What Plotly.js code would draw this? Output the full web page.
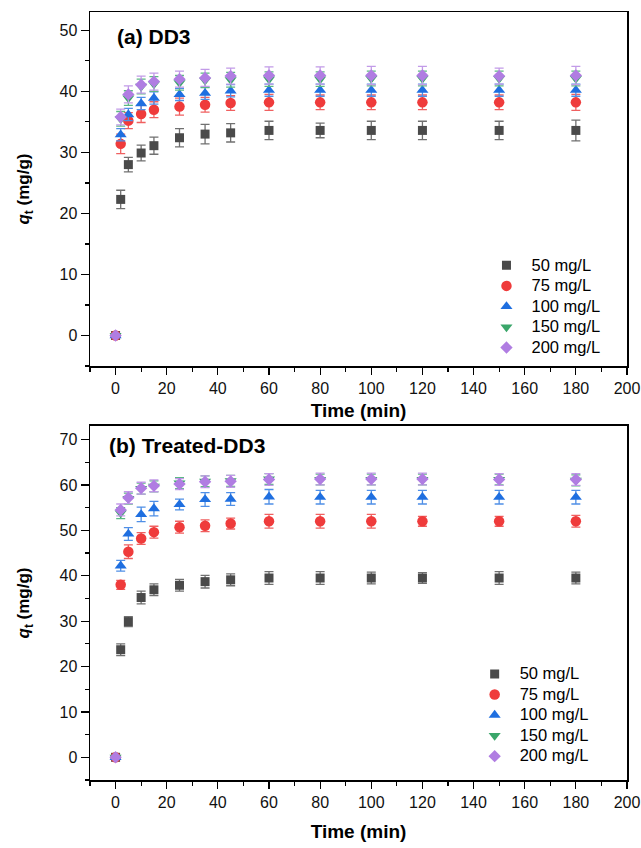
<!DOCTYPE html>
<html>
<head>
<meta charset="utf-8">
<script src="https://cdn.plot.ly/plotly-3.0.1.min.js"></script>
<style>html,body{margin:0;padding:0;background:#fff;}#chart{width:641px;height:848px;}</style>
</head>
<body>
<div id="chart"></div>
<script>
// ---- data ----
const time = [0, 2, 5, 10, 15, 25, 35, 45, 60, 80, 100, 120, 150, 180];
const seriesNames = ["50 mg/L", "75 mg/L", "100 mg/L", "150 mg/L", "200 mg/L"];

// (a) DD3
const a50  = [0, 22.3, 28.0, 29.9, 31.1, 32.4, 33.0, 33.2, 33.6, 33.6, 33.6, 33.6, 33.6, 33.6];
const a50e = [0, 1.5, 1.2, 1.3, 1.4, 1.5, 1.6, 1.5, 1.5, 1.2, 1.5, 1.5, 1.5, 1.7];
const a75  = [0, 31.4, 35.2, 36.3, 37.0, 37.5, 37.8, 38.1, 38.2, 38.2, 38.2, 38.2, 38.2, 38.2];
const a75e = [0, 1.6, 1.3, 1.4, 1.3, 1.4, 1.2, 1.2, 1.3, 1.2, 1.2, 1.2, 1.2, 1.3];
const a100  = [0, 32.9, 36.2, 38.0, 38.9, 39.5, 39.7, 40.1, 40.2, 40.2, 40.2, 40.2, 40.2, 40.2];
const a100e = [0, 1.0, 1.0, 1.0, 1.0, 1.0, 1.0, 1.0, 1.0, 1.0, 1.0, 1.0, 1.0, 1.0];
const a150  = [0, 35.5, 38.9, 40.8, 41.2, 41.4, 41.8, 41.9, 42.0, 42.0, 42.1, 42.1, 42.1, 42.1];
const a150e = [0, 1.2, 1.2, 1.2, 1.2, 1.2, 1.2, 1.2, 1.2, 1.2, 1.2, 1.2, 1.2, 1.2];
const a200  = [0, 35.8, 39.5, 41.1, 41.6, 42.0, 42.2, 42.5, 42.6, 42.6, 42.6, 42.6, 42.5, 42.6];
const a200e = [0, 1.3, 1.4, 1.4, 1.4, 1.3, 1.4, 1.3, 1.4, 1.4, 1.5, 1.5, 1.3, 1.5];

// (b) Treated-DD3
const b50  = [0, 23.7, 29.9, 35.2, 36.9, 37.9, 38.7, 39.1, 39.5, 39.5, 39.5, 39.5, 39.5, 39.5];
const b50e = [0, 1.3, 1.1, 1.4, 1.3, 1.3, 1.4, 1.3, 1.4, 1.4, 1.3, 1.2, 1.4, 1.3];
const b75  = [0, 38.0, 45.3, 48.2, 49.6, 50.7, 51.0, 51.5, 52.0, 52.0, 52.0, 52.0, 52.0, 52.0];
const b75e = [0, 1.0, 1.5, 1.3, 1.3, 1.3, 1.3, 1.2, 1.5, 1.5, 1.5, 1.1, 1.1, 1.3];
const b100  = [0, 42.2, 49.2, 53.5, 54.8, 55.7, 56.8, 56.9, 57.4, 57.3, 57.3, 57.3, 57.3, 57.3];
const b100e = [0, 1.2, 1.4, 1.6, 1.6, 1.2, 1.5, 1.4, 1.6, 1.5, 1.5, 1.5, 1.5, 1.5];
const b150  = [0, 53.8, 57.0, 59.2, 59.7, 60.4, 60.8, 60.9, 61.3, 61.2, 61.2, 61.2, 61.2, 61.0];
const b150e = [0, 1.2, 1.2, 1.2, 1.2, 1.2, 1.2, 1.2, 1.2, 1.2, 1.2, 1.2, 1.2, 1.2];
const b200  = [0, 54.5, 57.2, 59.3, 59.8, 60.2, 60.7, 60.8, 61.2, 61.3, 61.3, 61.3, 61.2, 61.2];
const b200e = [0, 1.3, 1.3, 1.3, 1.3, 1.2, 1.3, 1.3, 1.3, 1.3, 1.3, 1.3, 1.3, 1.3];

// ---- styles ----
const colors = ["#4a4a4a", "#ef3b3b", "#1f6fe0", "#3aa66a", "#b07de2"];
const errColors = ["#707070", "#f06060", "#4f8fe6", "#5cb884", "#c29be8"];
const symbols = ["square", "circle", "triangle-up", "triangle-down", "diamond"];
const sizes = [9, 10.5, 10.5, 10.5, 9.5];

const topY = [a50, a75, a100, a150, a200];
const topE = [a50e, a75e, a100e, a150e, a200e];
const botY = [b50, b75, b100, b150, b200];
const botE = [b50e, b75e, b100e, b150e, b200e];

const traces = [];
function addSet(ys, es, xa, ya, legendName) {
  ys.forEach((y, i) => {
    traces.push({
      type: "scatter", mode: "markers",
      x: time, y: y, xaxis: xa, yaxis: ya,
      name: '<span style="font-size:16.5px">' + seriesNames[i] + '</span>',
      legend: legendName,
      marker: {symbol: symbols[i], size: sizes[i], color: colors[i], line: {width: 0}},
      error_y: {type: "data", array: es[i], visible: true, color: errColors[i], thickness: 1.3, width: 4.5}
    });
  });
}
addSet(topY, topE, "x", "y", "legend");
addSet(botY, botE, "x2", "y2", "legend2");

const fontFam = "Liberation Sans, Arial, sans-serif";
function xAxis(anchor, standoff) {
  return {
    anchor: anchor, domain: [0, 1], range: [-10, 200], tickmode: "array",
    tickvals: [0, 20, 40, 60, 80, 100, 120, 140, 160, 180, 200],
    ticks: "outside", ticklen: 7, tickwidth: 1.2, tickcolor: "#000",
    minor: {dtick: 10, tick0: 0, ticks: "outside", ticklen: 4, tickwidth: 1.2, tickcolor: "#000"},
    showline: true, linecolor: "#000", linewidth: 1.5, mirror: true,
    showgrid: false, zeroline: false,
    tickfont: {family: fontFam, size: 16, color: "#111"},
    title: {text: "<b>Time (min)</b>", font: {family: fontFam, size: 19, color: "#000"}, standoff: standoff}
  };
}
function yAxis(anchor, domain, range, dtick) {
  return {
    anchor: anchor, domain: domain, range: range, dtick: dtick, tick0: 0,
    ticks: "outside", ticklen: 8, tickwidth: 1.2, tickcolor: "#000",
    minor: {dtick: dtick / 2, tick0: 0, ticks: "outside", ticklen: 4, tickwidth: 1.2, tickcolor: "#000"},
    showline: true, linecolor: "#000", linewidth: 1.5, mirror: true,
    showgrid: false, zeroline: false,
    tickfont: {family: fontFam, size: 16, color: "#111"},
    title: {text: "<b><i>q</i><sub>t</sub> (mg/g)</b>", font: {family: fontFam, size: 17, color: "#000"}, standoff: 25}
  };
}

const legendFont = {family: fontFam, size: 13.5, color: "#000"};
const layout = {
  width: 641, height: 848,
  margin: {l: 90, r: 14, t: 12, b: 68},
  paper_bgcolor: "#fff", plot_bgcolor: "#fff",
  font: {family: fontFam, color: "#000"},
  xaxis: xAxis("y", 8),
  yaxis: yAxis("x", [0.539, 1], [-5, 53], 10),
  xaxis2: xAxis("y2", 15),
  yaxis2: yAxis("x2", [0, 0.461], [-5, 73], 10),
  legend: {x: 0.729, y: 0.690, xanchor: "left", yanchor: "top", bgcolor: "rgba(0,0,0,0)",
           font: legendFont, itemwidth: 40, tracegroupgap: 0},
  legend2: {x: 0.707, y: 0.158, xanchor: "left", yanchor: "top", bgcolor: "rgba(0,0,0,0)",
           font: legendFont, itemwidth: 40, tracegroupgap: 0},
  annotations: [
    {text: "<b>(a) DD3</b>", xref: "x domain", yref: "y domain", x: 0.046, y: 0.932,
     xanchor: "left", yanchor: "middle", showarrow: false, font: {family: fontFam, size: 21, color: "#000"}},
    {text: "<b>(b) Treated-DD3</b>", xref: "x2 domain", yref: "y2 domain", x: 0.032, y: 0.946,
     xanchor: "left", yanchor: "middle", showarrow: false, font: {family: fontFam, size: 21, color: "#000"}}
  ]
};

Plotly.newPlot("chart", traces, layout, {displayModeBar: false, staticPlot: true});
</script>
</body>
</html>
